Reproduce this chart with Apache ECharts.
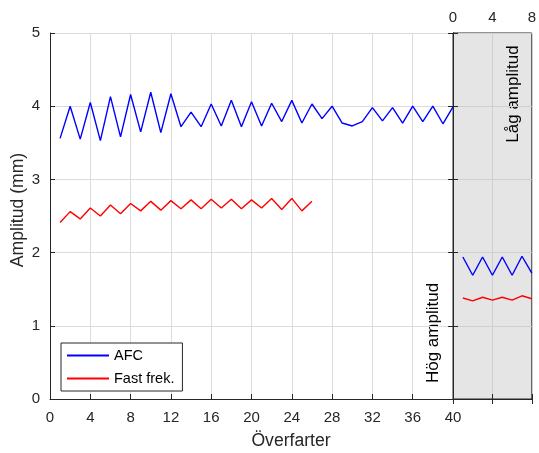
<!DOCTYPE html>
<html><head><meta charset="utf-8">
<script src="https://cdn.jsdelivr.net/npm/echarts@6/dist/echarts.min.js"></script>
<style>html,body{margin:0;padding:0;background:#fff}#c{width:539px;height:453px}</style>
</head><body><div id="c"></div>
<script>
// Main panel data (x = Överfarter)
const afcX = [1,2,3,4,5,6,7,8,9,10,11,12,13,14,15,16,17,18,19,20,21,22,23,24,25,26,27,28,29,30,31,32,33,34,35,36,37,38,39,40];
const afcY = [3.56,4.00,3.55,4.05,3.53,4.13,3.58,4.16,3.65,4.19,3.64,4.17,3.72,3.92,3.72,4.03,3.73,4.08,3.72,4.06,3.73,4.04,3.79,4.08,3.77,4.03,3.83,4.00,3.77,3.73,3.79,3.98,3.80,3.98,3.77,4.00,3.79,4.00,3.76,3.99];
const fastX = [1,2,3,4,5,6,7,8,9,10,11,12,13,14,15,16,17,18,19,20,21,22,23,24,25,26];
const fastY = [2.41,2.56,2.46,2.61,2.50,2.65,2.53,2.67,2.57,2.70,2.58,2.71,2.60,2.72,2.60,2.73,2.61,2.73,2.60,2.72,2.61,2.74,2.59,2.74,2.57,2.70];
// Right panel data
const lowX = [1,2,3,4,5,6,7,8];
const lowAfcY = [1.94,1.69,1.94,1.69,1.94,1.69,1.95,1.72];
const lowFastY = [1.38,1.34,1.39,1.35,1.39,1.35,1.41,1.37];
const seriesNames = ['AFC', 'Fast frek.'];
const xName = 'Överfarter', yName = 'Amplitud (mm)';
const lowLabel = 'Låg amplitud', highLabel = 'Hög amplitud';

const zip = (xs, ys) => xs.map((x, i) => [x, ys[i]]);
const txt = '#262626', grid = '#dcdcdc', font = 'Liberation Sans, Arial, sans-serif';

const chart = echarts.init(document.getElementById('c'), null, {renderer: 'canvas'});
chart.setOption({
  animation: false,
  textStyle: {fontFamily: font},
  grid: [
    {left: 50, top: 33, width: 403, height: 366, show: false},
    {left: 453, top: 33, width: 80, height: 366, show: true, backgroundColor: '#e5e5e5', borderColor: txt, borderWidth: 1}
  ],
  xAxis: [
    {gridIndex: 0, type: 'value', min: 0, max: 40, interval: 4,
     axisLine: {show: true, lineStyle: {color: txt}}, axisTick: {inside: true, length: 5, lineStyle: {color: txt}},
     axisLabel: {color: txt, fontSize: 15, margin: 11, fontFamily: font},
     splitLine: {show: true, lineStyle: {color: grid}}},
    {gridIndex: 1, type: 'value', position: 'top', min: 0, max: 8, interval: 4,
     axisLine: {show: true, lineStyle: {color: txt}}, axisTick: {inside: true, length: 5, lineStyle: {color: txt}},
     axisLabel: {color: txt, fontSize: 15, margin: 8, fontFamily: font, showMinLabel: true, showMaxLabel: true},
     splitLine: {show: true, lineStyle: {color: '#cfcfcf'}}},
    {gridIndex: 1, type: 'value', position: 'bottom', min: 0, max: 8, interval: 4,
     axisLine: {show: true, lineStyle: {color: txt}}, axisTick: {inside: true, length: 5, lineStyle: {color: txt}},
     axisLabel: {show: false}, splitLine: {show: false}}
  ],
  yAxis: [
    {gridIndex: 0, type: 'value', min: 0, max: 5, interval: 1,
     axisLine: {show: true, lineStyle: {color: txt}}, axisTick: {show: true, inside: true, length: 5, lineStyle: {color: txt}},
     axisLabel: {color: txt, fontSize: 15, margin: 10, fontFamily: font},
     splitLine: {show: true, lineStyle: {color: grid}}},
    {gridIndex: 1, type: 'value', position: 'left', min: 0, max: 5, interval: 1,
     axisLine: {show: true, lineStyle: {color: txt}}, axisTick: {show: true, inside: true, length: 5, lineStyle: {color: txt}},
     axisLabel: {show: false}, splitLine: {show: true, lineStyle: {color: '#cfcfcf'}}},
    {gridIndex: 1, type: 'value', position: 'right', min: 0, max: 5, interval: 1,
     axisLine: {show: true, lineStyle: {color: txt}}, axisTick: {show: true, inside: true, length: 5, lineStyle: {color: txt}},
     axisLabel: {show: false}, splitLine: {show: false}}
  ],
  legend: {
    left: 61, top: 343, orient: 'vertical', itemWidth: 42, itemHeight: 12, itemGap: 8,
    padding: [5, 8, 5, 5], borderColor: txt, borderWidth: 1, backgroundColor: '#fff',
    itemStyle: {opacity: 0},
    textStyle: {color: '#000', fontSize: 14.5, fontFamily: font},
    data: seriesNames
  },
  series: [
    {name: seriesNames[0], type: 'line', xAxisIndex: 0, yAxisIndex: 0, data: zip(afcX, afcY), symbol: 'none', lineStyle: {color: '#0000ff', width: 1.4}, itemStyle: {color: '#0000ff'}},
    {name: seriesNames[1], type: 'line', xAxisIndex: 0, yAxisIndex: 0, data: zip(fastX, fastY), symbol: 'none', lineStyle: {color: '#ff0000', width: 1.4}, itemStyle: {color: '#ff0000'}},
    {name: seriesNames[0], type: 'line', xAxisIndex: 1, yAxisIndex: 1, data: zip(lowX, lowAfcY), symbol: 'none', lineStyle: {color: '#0000ff', width: 1.4}, itemStyle: {color: '#0000ff'}},
    {name: seriesNames[1], type: 'line', xAxisIndex: 1, yAxisIndex: 1, data: zip(lowX, lowFastY), symbol: 'none', lineStyle: {color: '#ff0000', width: 1.4}, itemStyle: {color: '#ff0000'}}
  ],
  graphic: [
    {type: 'text', x: 291, y: 441, style: {text: xName, fill: txt, font: '17.6px ' + font, align: 'center', verticalAlign: 'middle'}},
    {type: 'text', x: 18, y: 210, rotation: Math.PI / 2, style: {text: yName, fill: txt, font: '17.6px ' + font, align: 'center', verticalAlign: 'middle'}},
    {type: 'text', x: 513, y: 94, rotation: Math.PI / 2, style: {text: lowLabel, fill: '#000', font: '17px ' + font, align: 'center', verticalAlign: 'middle'}},
    {type: 'text', x: 433, y: 333, rotation: Math.PI / 2, style: {text: highLabel, fill: '#000', font: '17px ' + font, align: 'center', verticalAlign: 'middle'}}
  ]
});
</script></body></html>
